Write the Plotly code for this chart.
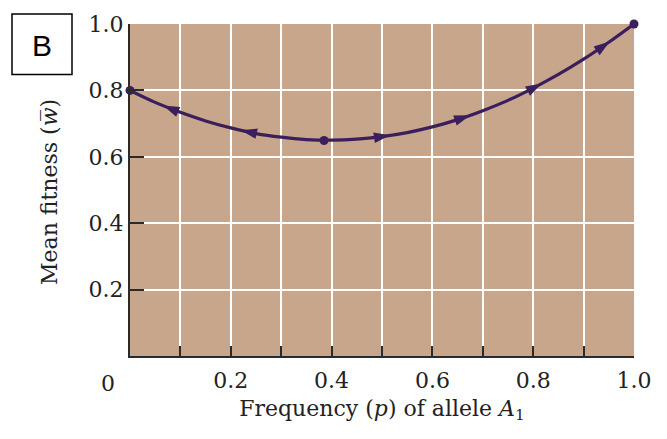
import numpy as np
import plotly.graph_objects as go

# Data
p_vals = [0, 0.05, 0.1, 0.15, 0.2, 0.25, 0.3, 0.35, 0.4, 0.45, 0.5, 0.55, 0.6,
          0.65, 0.7, 0.75, 0.8, 0.85, 0.9, 0.95, 1.0]
w_vals = [0.800, 0.764, 0.734, 0.708, 0.687, 0.670, 0.659, 0.652, 0.650, 0.653,
          0.661, 0.673, 0.690, 0.712, 0.739, 0.770, 0.807, 0.848, 0.894, 0.945, 1.000]

dot_p = [0, 0.385, 1.0]
dot_w = [0.800, 0.649, 1.000]

arrow_p = [0.066, 0.22, 0.516, 0.675, 0.817, 0.952]
arrow_dir = [-1, -1, 1, 1, 1, 1]   # -1: pointing left, +1: pointing right

x_tickvals = [0.2, 0.4, 0.6, 0.8, 1.0]
x_ticktext = ["0.2", "0.4", "0.6", "0.8", "1.0"]
y_tickvals = [0.2, 0.4, 0.6, 0.8, 1.0]
y_ticktext = ["0.2", "0.4", "0.6", "0.8", "1.0"]

LINE = "#3b1f5c"
BG = "#c8a68c"
AX = "#2a2a2a"
TXT = "#222222"
FONT = "DejaVu Serif"
FS = 22

# plot area in pixels
L, R, T, B = 130, 33, 20, 83
W, H = 667, 439
pw, ph = W - L - R, H - T - B

# arrow positions/angles from the curve
p_arr = np.array(p_vals)
w_arr = np.array(w_vals)
grad = np.gradient(w_arr, p_arr)
a_w = np.interp(arrow_p, p_arr, w_arr)
a_slope = np.interp(arrow_p, p_arr, grad)
angles = []
for s, d in zip(a_slope, arrow_dir):
    dx = d * pw
    dy = d * ph * s
    angles.append(float(90 - np.degrees(np.arctan2(dy, dx))))

fig = go.Figure()
fig.add_trace(go.Scatter(x=p_vals, y=w_vals, mode="lines",
                         line=dict(color=LINE, width=3.2, shape="spline"),
                         cliponaxis=False, hoverinfo="skip"))
fig.add_trace(go.Scatter(x=arrow_p, y=a_w, mode="markers",
                         marker=dict(symbol="arrow", size=17, color=LINE,
                                     angle=angles, line=dict(width=0)),
                         cliponaxis=False, hoverinfo="skip"))
fig.add_trace(go.Scatter(x=dot_p, y=dot_w, mode="markers",
                         marker=dict(symbol="circle", size=9, color=LINE),
                         cliponaxis=False, hoverinfo="skip"))

tf = dict(family=FONT, size=FS, color=TXT)
fig.update_layout(
    width=W, height=H,
    margin=dict(l=L, r=R, t=T, b=B),
    paper_bgcolor="white",
    plot_bgcolor=BG,
    showlegend=False,
    font=tf,
    xaxis=dict(range=[0, 1.0], tickmode="array", tickvals=x_tickvals,
               ticktext=x_ticktext, showgrid=True, gridcolor="white",
               gridwidth=2, zeroline=False, showline=True, linecolor=AX,
               linewidth=2, ticks="inside", ticklen=10, tickwidth=2,
               tickcolor=AX, tickfont=tf, ticklabelstandoff=4,
               minor=dict(tickmode="linear", tick0=0, dtick=0.1, showgrid=True,
                          gridcolor="white", gridwidth=2, ticks="inside",
                          ticklen=10, tickwidth=2, tickcolor=AX),
               title=dict(text="Frequency (<i>p</i>) of allele <i>A</i><sub>1</sub>",
                          font=tf, standoff=8),
               fixedrange=True),
    yaxis=dict(range=[0, 1.0], tickmode="array", tickvals=y_tickvals,
               ticktext=y_ticktext, showgrid=True, gridcolor="white",
               gridwidth=2, zeroline=False, showline=True, linecolor=AX,
               linewidth=2, ticks="inside", ticklen=14, tickwidth=2,
               tickcolor=AX, tickfont=tf,
               fixedrange=True),
)

# rotated y-axis title
fig.add_annotation(x=(50 - L) / pw, y=(H - B - 190) / ph, xref="paper", yref="paper",
                   xanchor="center", yanchor="middle", textangle=-90,
                   text="Mean fitness (<i>w\u0305</i>)", showarrow=False, font=tf)

# "0" label at the origin (offset to the left as in the reference)
fig.add_annotation(x=(108 - L) / pw, y=(H - B - 384) / ph, xref="paper", yref="paper",
                   xanchor="center", yanchor="middle",
                   text="0", showarrow=False, font=tf)

# boxed panel letter "B"
fig.add_shape(type="rect", xref="paper", yref="paper",
              x0=(12 - L) / pw, x1=(72 - L) / pw,
              y0=(H - B - 71) / ph, y1=(H - B - 10) / ph,
              line=dict(color="black", width=1.5), fillcolor="white")
fig.add_annotation(x=(42 - L) / pw, y=(H - B - 42) / ph, xref="paper", yref="paper",
                   xanchor="center", yanchor="middle",
                   text="B", showarrow=False,
                   font=dict(family="Liberation Sans", size=30, color="black"))

fig.write_html("out.html", config={"displayModeBar": False},
               post_script="document.body.style.margin='0';document.body.style.padding='0';")
